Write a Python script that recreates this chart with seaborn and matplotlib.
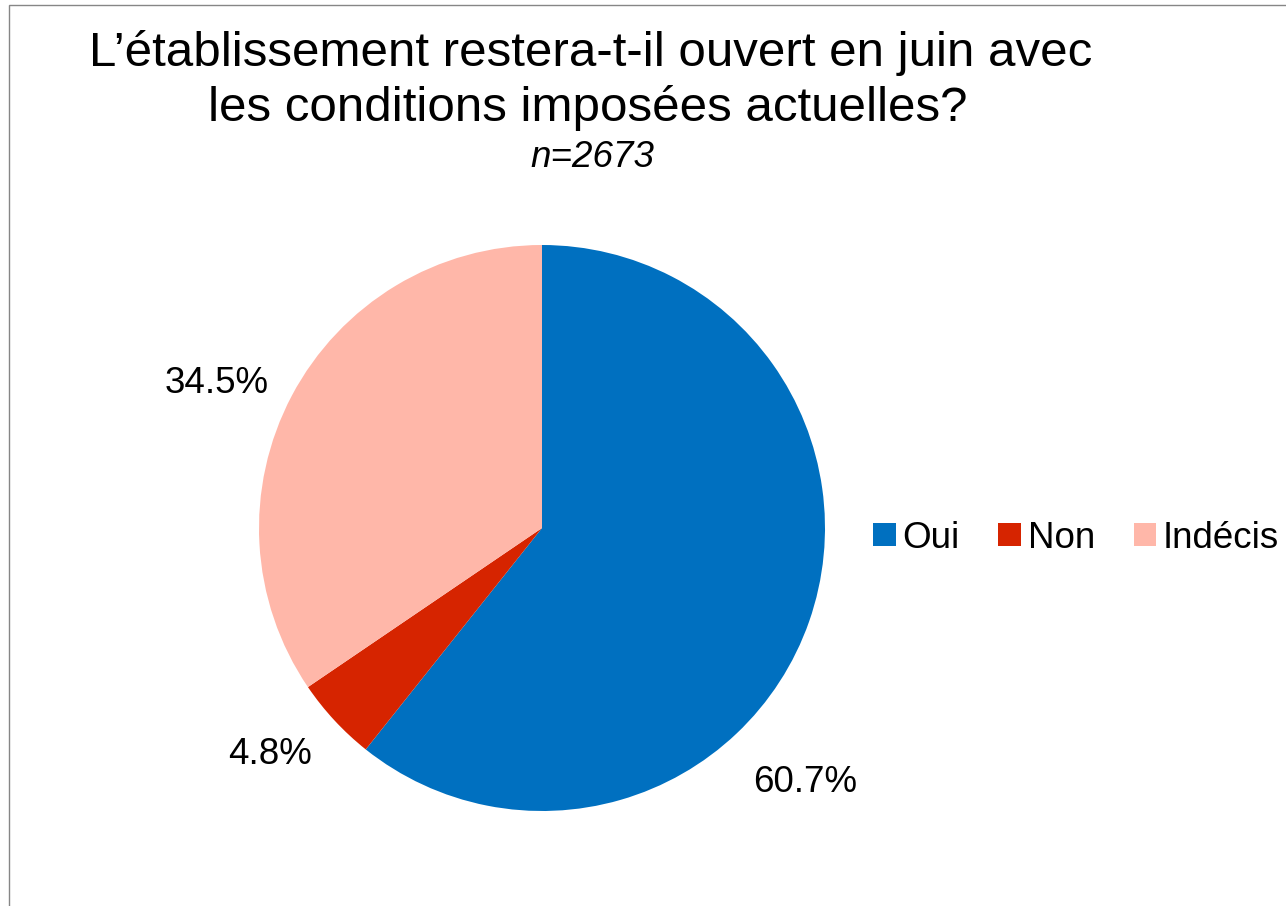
import matplotlib
matplotlib.use("Agg")
import matplotlib.pyplot as plt
import seaborn as sns
from matplotlib.patches import Rectangle, Patch

# data
categories = ["Oui", "Non", "Indécis"]
shares = [60.7, 4.8, 34.5]
pct_labels = ["60.7%", "4.8%", "34.5%"]
colors = ["#0070C0", "#D62400", "#FFB7A9"]

title_lines = ["L’établissement restera-t-il ouvert en juin avec",
               "les conditions imposées actuelles?"]
subtitle = "n=2673"

# label spots (in units of pie radius), like Excel best fit
label_pos = [(0.93, -0.90), (-0.96, -0.80), (-1.15, 0.51)]

sns.set_theme(style="white")
plt.rcParams['font.family'] = ['Liberation Sans', 'DejaVu Sans']
plt.rcParams['text.color'] = 'black'

W, H = 1286, 906
fig = plt.figure(figsize=(W / 100, H / 100), dpi=100)

cx, cy, r = 542, 528, 283
ax = fig.add_axes([(cx - r) / W, (H - cy - r) / H, 2 * r / W, 2 * r / H])
ax.pie(shares, colors=sns.color_palette(colors), startangle=90, counterclock=False,
       radius=1, wedgeprops=dict(linewidth=0))
ax.set_xlim(-1, 1)
ax.set_ylim(-1, 1)
ax.set_aspect("equal")
ax.axis("off")

for (x, y), lab in zip(label_pos, pct_labels):
    ax.text(x, y, lab, ha="center", va="center", fontsize=26.5, color="black")

fig.text(591 / W, 1 - 66 / H, title_lines[0], ha="center", va="baseline", fontsize=35.5)
fig.text(588 / W, 1 - 121 / H, title_lines[1], ha="center", va="baseline", fontsize=35.5)
fig.text(592 / W, 1 - 167 / H, subtitle, ha="center", va="baseline", fontsize=26.5,
         style="italic")

handles = [Patch(facecolor=c, edgecolor="none") for c in colors]
fig.legend(handles, categories, loc="center left", bbox_to_anchor=(873 / W, 1 - 538 / H),
           ncol=3, frameon=False, fontsize=26.5, handlelength=0.62, handleheight=0.62,
           handletextpad=0.18, columnspacing=1.05, borderpad=0, borderaxespad=0,
           labelcolor="black")

# outer chart border (cut at right and bottom)
fig.patches.append(Rectangle((9 / W, -0.1), 1.2, 1.1 - 5 / H, transform=fig.transFigure,
                             fill=False, edgecolor="#868686", linewidth=1))

fig.savefig("out.png", dpi=100)
